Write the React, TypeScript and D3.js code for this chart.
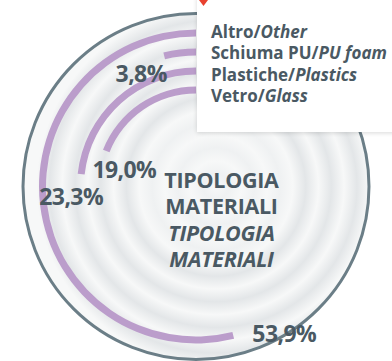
import React from "react";
import * as d3 from "d3";

const categories = ["Altro", "Schiuma PU", "Plastiche", "Vetro"];
const categoriesEn = ["Other", "PU foam", "Plastics", "Glass"];
const values = [53.9, 3.8, 23.3, 19.0];
const valueLabels = ["53,9%", "3,8%", "23,3%", "19,0%"];
// label offsets from arc end point (layout)
const labelOffsets: [number, number][] = [
  [51, 6.6],
  [-23, 26],
  [-10, 31],
  [18, 27],
];
const centerLines = ["TIPOLOGIA", "MATERIALI", "TIPOLOGIA", "MATERIALI"];

const W = 392;
const H = 361;
const cx = 196;
const cy = 186.5;
const outerR = 173;
const FONT = "'Open Sans', Roboto, sans-serif";
const TXT = "#4a5963";
const PURPLE = "#bb9dcb";

export default function App() {
  const ring = d3
    .scaleBand<string>()
    .domain(categories)
    .range([157, 93])
    .paddingInner(12 / 19)
    .paddingOuter(0);
  const angle = d3.scaleLinear().domain([0, 100]).range([0, -2 * Math.PI]);
  const arc = d3.arc<any>();

  const ripples = d3.range(0, 1.0001, 0.07);

  return (
    <div style={{ position: "absolute", left: 0, top: 0 }}>
      <svg width={W} height={H} style={{ display: "block" }}>
        <defs>
          <radialGradient id="bg" cx={cx + 20} cy={cy} r={outerR + 10} fx={cx + 20} fy={cy} gradientUnits="userSpaceOnUse">
            {ripples.map((t, i) => (
              <stop
                key={i}
                offset={t}
                stopColor={i % 2 === 0 ? "#f7f8f8" : t < 0.4 ? "#eff1f2" : "#e3e6e8"}
              />
            ))}
          </radialGradient>
          <filter id="sh" x="-10%" y="-10%" width="130%" height="130%">
            <feDropShadow dx="0" dy="1" stdDeviation="2" floodColor="#000" floodOpacity="0.15" />
          </filter>
        </defs>
        <rect width={W} height={H} fill="#fff" />
        <circle cx={cx} cy={cy} r={outerR} fill="url(#bg)" stroke="#6b7e87" strokeWidth={3} />
        <g transform={`translate(${cx},${cy})`}>
          {categories.map((c, i) => {
            const r0 = ring(c)!;
            const r1 = r0 + ring.bandwidth();
            return (
              <path
                key={c}
                d={arc({ innerRadius: r0, outerRadius: r1, startAngle: 0, endAngle: angle(values[i]) })!}
                fill={PURPLE}
              />
            );
          })}
          {categories.map((c, i) => {
            const rm = ring(c)! + ring.bandwidth() / 2;
            const a = angle(values[i]);
            const x = rm * Math.sin(a) + labelOffsets[i][0];
            const y = -rm * Math.cos(a) + labelOffsets[i][1];
            return (
              <text
                key={c}
                x={x}
                y={y}
                textAnchor="middle"
                fontFamily={FONT}
                fontWeight={700}
                fontSize={23}
                fill={TXT}
                letterSpacing={-0.6}
              >
                {valueLabels[i]}
              </text>
            );
          })}
        </g>
        {centerLines.map((t, i) => (
          <text
            key={i}
            x={221.5}
            y={188 + i * 26.3}
            textAnchor="middle"
            fontFamily={FONT}
            fontWeight={700}
            fontStyle={i >= 2 ? "italic" : "normal"}
            fontSize={21.5}
            fill={TXT}
            letterSpacing={-0.3}
          >
            {t}
          </text>
        ))}
        <rect x={197} y={-5} width={200} height={137} fill="#fff" filter="url(#sh)" />
        <path d="M199,0 L208,0 L203.5,6 Z" fill="#e8412f" />
        {categories.map((c, i) => (
          <text key={c} x={211} y={38 + i * 21.3} fontFamily={FONT} fontWeight={700} fontSize={17} fill={TXT} letterSpacing={0}>
            {c}/<tspan fontStyle="italic">{categoriesEn[i]}</tspan>
          </text>
        ))}
      </svg>
    </div>
  );
}
